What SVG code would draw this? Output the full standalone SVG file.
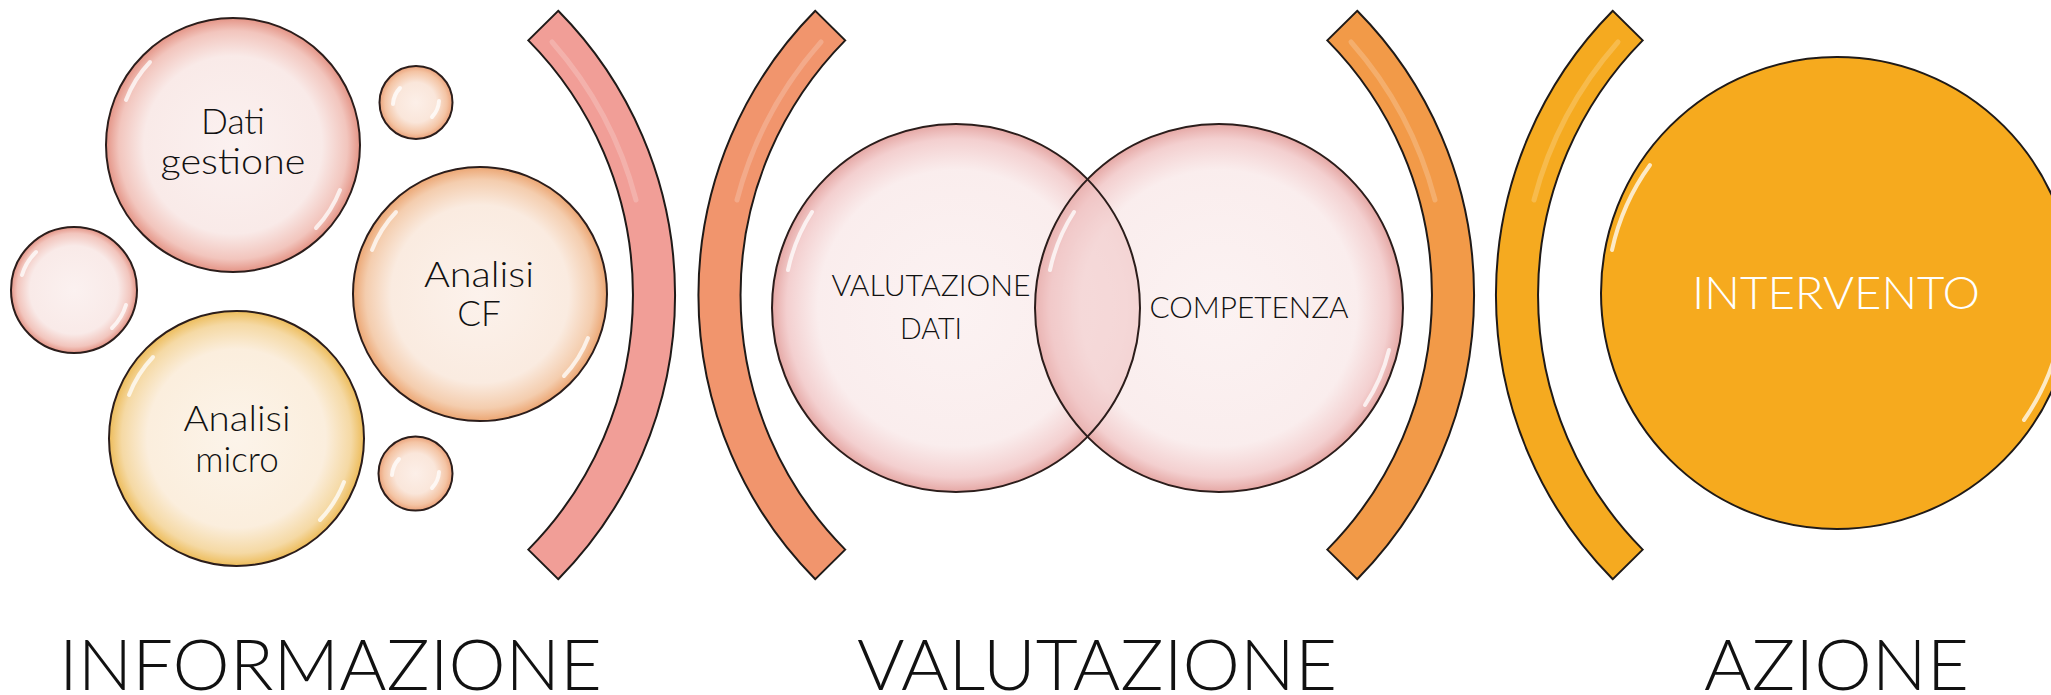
<svg xmlns="http://www.w3.org/2000/svg" width="2051" height="695" viewBox="0 0 2051 695">
  <defs>
    <radialGradient id="gPink" cx="50%" cy="50%" r="50%">
      <stop offset="0" stop-color="#FBF1F0"/>
      <stop offset="0.7" stop-color="#F9EAE8"/>
      <stop offset="0.9" stop-color="#F2C5BD"/>
      <stop offset="1" stop-color="#E49486"/>
    </radialGradient>
    <radialGradient id="gPeach" cx="50%" cy="50%" r="50%">
      <stop offset="0" stop-color="#FCF2EC"/>
      <stop offset="0.7" stop-color="#FAEBE0"/>
      <stop offset="0.9" stop-color="#F4CDAE"/>
      <stop offset="1" stop-color="#ECA673"/>
    </radialGradient>
    <radialGradient id="gYellow" cx="50%" cy="50%" r="50%">
      <stop offset="0" stop-color="#FCF4EA"/>
      <stop offset="0.7" stop-color="#FBEEDD"/>
      <stop offset="0.9" stop-color="#F5D9A4"/>
      <stop offset="1" stop-color="#EDBC5A"/>
    </radialGradient>
    <radialGradient id="gSmall" cx="50%" cy="50%" r="50%">
      <stop offset="0" stop-color="#FCEFE8"/>
      <stop offset="0.55" stop-color="#FAE6DA"/>
      <stop offset="0.85" stop-color="#F4C4A4"/>
      <stop offset="1" stop-color="#EBA27A"/>
    </radialGradient>
    <radialGradient id="gVenn" cx="50%" cy="50%" r="50%">
      <stop offset="0" stop-color="#FBF0F0" stop-opacity="0.85"/>
      <stop offset="0.75" stop-color="#F9EAEA" stop-opacity="0.85"/>
      <stop offset="0.92" stop-color="#F2CACA" stop-opacity="0.9"/>
      <stop offset="1" stop-color="#E4A3A0" stop-opacity="0.95"/>
    </radialGradient>
    <style>
      .bub { stroke: #2b1d1b; stroke-width: 2; }
      .ring { fill: none; stroke: #2b1d1b; stroke-width: 2; }
      .brk { stroke: #1f1a18; stroke-width: 2; stroke-linejoin: miter; }
      .hl { fill: none; stroke: #ffffff; stroke-linecap: round; stroke-opacity: 0.75; }
      .bhl { fill: none; stroke: #ffffff; stroke-opacity: 0.2; stroke-width: 5; stroke-linecap: round; }
      .t { font-family: "Lato", "Open Sans", "Liberation Sans", sans-serif; font-weight: 300; fill: #111111; text-anchor: middle; }
      .in { font-size: 35px; }
      .venn { font-size: 30px; }
      .big { font-size: 71px; }
    </style>
  </defs>

  <!-- Brackets -->
  <g id="bracket1">
    <path class="brk" fill="#F19E97" d="M528.3,40.4 L558.2,10.8 A404,404 0 0 1 558.2,579.2 L528.3,549.6 A362,362 0 0 0 528.3,40.4 Z"/>
    <path class="bhl" d="M552,42 A386,386 0 0 1 636,200"/>
  </g>
  <g id="bracket2">
    <path class="brk" fill="#F1956D" d="M845.2,40.4 L815.3,10.8 A404,404 0 0 0 815.3,579.2 L845.2,549.6 A362,362 0 0 1 845.2,40.4 Z"/>
    <path class="bhl" d="M821,42 A386,386 0 0 0 737,200"/>
  </g>
  <g id="bracket3">
    <path class="brk" fill="#F29A48" d="M1327.3,40.4 L1357.2,10.8 A404,404 0 0 1 1357.2,579.2 L1327.3,549.6 A362,362 0 0 0 1327.3,40.4 Z"/>
    <path class="bhl" d="M1351,42 A386,386 0 0 1 1435,200"/>
  </g>
  <g id="bracket4">
    <path class="brk" fill="#F5AA20" d="M1642.7,40.4 L1612.8,10.8 A404,404 0 0 0 1612.8,579.2 L1642.7,549.6 A362,362 0 0 1 1642.7,40.4 Z"/>
    <path class="bhl" d="M1618,42 A386,386 0 0 0 1534,200"/>
  </g>

  <!-- Information bubbles -->
  <g id="dati-gestione">
    <circle class="bub" cx="233" cy="145" r="127" fill="url(#gPink)"/>
    <path class="hl" stroke-width="4" d="M126,100 A116,116 0 0 1 150,62"/>
    <path class="hl" stroke-width="4" d="M340,190 A116,116 0 0 1 316,228"/>
    <text class="t in" x="233" y="134" textLength="64" lengthAdjust="spacingAndGlyphs">Dati</text>
    <text class="t in" x="233" y="174" textLength="145" lengthAdjust="spacingAndGlyphs">gestione</text>
  </g>
  <g id="bubble-small-top">
    <circle class="bub" cx="416" cy="102.5" r="36.5" fill="url(#gSmall)"/>
    <path class="hl" stroke-width="4" d="M393,104 A25,25 0 0 1 400,88"/>
    <path class="hl" stroke-width="4" d="M439,101 A25,25 0 0 1 432,117"/>
  </g>
  <g id="bubble-left">
    <circle class="bub" cx="74" cy="290" r="63" fill="url(#gPink)"/>
    <path class="hl" stroke-width="4" d="M22,275 A54,54 0 0 1 36,252"/>
    <path class="hl" stroke-width="4" d="M126,305 A54,54 0 0 1 112,328"/>
  </g>
  <g id="analisi-cf">
    <circle class="bub" cx="480" cy="294" r="127" fill="url(#gPeach)"/>
    <path class="hl" stroke-width="4" d="M372,250 A116,116 0 0 1 396,212"/>
    <path class="hl" stroke-width="4" d="M588,338 A116,116 0 0 1 564,376"/>
    <text class="t in" x="479" y="287" textLength="110" lengthAdjust="spacingAndGlyphs">Analisi</text>
    <text class="t in" x="479" y="326">CF</text>
  </g>
  <g id="analisi-micro">
    <circle class="bub" cx="236.5" cy="438.5" r="127.5" fill="url(#gYellow)"/>
    <path class="hl" stroke-width="4" d="M129,395 A116,116 0 0 1 153,357"/>
    <path class="hl" stroke-width="4" d="M344,482 A116,116 0 0 1 320,520"/>
    <text class="t in" x="237" y="431" textLength="107" lengthAdjust="spacingAndGlyphs">Analisi</text>
    <text class="t in" x="237" y="472">micro</text>
  </g>
  <g id="bubble-small-bottom">
    <circle class="bub" cx="415.5" cy="473.5" r="37" fill="url(#gSmall)"/>
    <path class="hl" stroke-width="4" d="M392,475 A25,25 0 0 1 399,459"/>
    <path class="hl" stroke-width="4" d="M439,472 A25,25 0 0 1 432,488"/>
  </g>

  <!-- Venn -->
  <g id="valutazione-dati">
    <circle cx="956" cy="308" r="184" fill="url(#gVenn)"/>
    <path class="hl" stroke-width="4" stroke-opacity="0.6" d="M788,270 A172,172 0 0 1 812,212"/>
  </g>
  <g id="competenza">
    <circle cx="1219" cy="308" r="184" fill="url(#gVenn)"/>
    <path d="M1087.5,179.3 A184,184 0 0 1 1087.5,436.7 A184,184 0 0 1 1087.5,179.3 Z" fill="#EFC4C4" fill-opacity="0.45"/>
    <path class="hl" stroke-width="4" stroke-opacity="0.6" d="M1050,270 A172,172 0 0 1 1074,212"/>
    <path class="hl" stroke-width="4" stroke-opacity="0.6" d="M1389,350 A172,172 0 0 1 1365,405"/>
    <circle class="ring" cx="956" cy="308" r="184"/>
    <circle class="ring" cx="1219" cy="308" r="184"/>
    <text class="t venn" x="931" y="296" textLength="199" lengthAdjust="spacingAndGlyphs">VALUTAZIONE</text>
    <text class="t venn" x="931" y="339" textLength="62" lengthAdjust="spacingAndGlyphs">DATI</text>
    <text class="t venn" x="1249" y="318" textLength="199" lengthAdjust="spacingAndGlyphs">COMPETENZA</text>
  </g>

  <!-- Action -->
  <g id="intervento">
    <circle cx="1837" cy="293" r="236" fill="#F6AA1E" stroke="#1f1a18" stroke-width="2"/>
    <path class="hl" stroke="#FFE9A0" stroke-width="4" stroke-opacity="0.8" d="M1612,250 A226,226 0 0 1 1650,165"/>
    <path class="hl" stroke="#FFE9A0" stroke-width="4" stroke-opacity="0.8" d="M2060,336 A226,226 0 0 1 2024,420"/>
    <text class="t" x="1836" y="309" font-size="46" style="fill:#ffffff" textLength="288" lengthAdjust="spacingAndGlyphs">INTERVENTO</text>
  </g>

  <!-- Stage labels -->
  <g id="labels">
    <text class="t big" x="330.5" y="690" textLength="543" lengthAdjust="spacingAndGlyphs">INFORMAZIONE</text>
    <text class="t big" x="1097" y="690" textLength="480" lengthAdjust="spacingAndGlyphs">VALUTAZIONE</text>
    <text class="t big" x="1836.5" y="690" textLength="265" lengthAdjust="spacingAndGlyphs">AZIONE</text>
  </g>
</svg>
